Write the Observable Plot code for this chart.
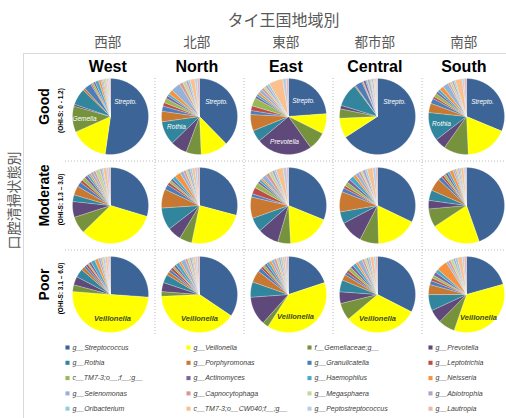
<!DOCTYPE html>
<html><head><meta charset="utf-8">
<script src="https://cdn.jsdelivr.net/npm/d3@7"></script>
<script src="https://cdn.jsdelivr.net/npm/@observablehq/plot@0.6"></script>
<style>body{margin:0;background:#fff;} svg{display:block}</style>
</head><body><div id="chart"></div>
<script>
// ---------- data ----------
const title = "タイ王国地域別";
const rowTitle = "口腔清掃状態別";
const regionsJa = ["西部", "北部", "東部", "都市部", "南部"];
const regionsEn = ["West", "North", "East", "Central", "South"];
const hygiene = ["Good", "Moderate", "Poor"];
const hygieneRange = ["(OHI-S: 0 - 1.2)", "(OHI-S: 1.3 – 3.0)", "(OHI-S: 3.1 – 6.0)"];

const taxa = ["g__Streptococcus", "g__Veillonella", "f__Gemellaceae;g__", "g__Prevotella",
  "g__Rothia", "g__Porphyromonas", "g__Granulicatella", "g__Leptotrichia",
  "c__TM7-3;o__;f__;g__", "g__Actinomyces", "g__Haemophilus", "g__Neisseria",
  "g__Selenomonas", "g__Capnocytophaga", "g__Megasphaera", "g__Abiotrophia",
  "g__Oribacterium", "c__TM7-3;o__CW040;f__;g__", "g__Peptostreptococcus", "g__Lautropia"];
const taxaColors = ["#3C6496", "#FFFF00", "#76923C", "#5F497A",
  "#31859C", "#C97831", "#4A7EBB", "#BE4B48",
  "#98B954", "#7D60A0", "#46AAC5", "#F69240",
  "#95B3D7", "#D99694", "#C3D69B", "#B3A2C7",
  "#93CDDD", "#FAC090", "#B9CDE5", "#E6B9B8"];

// relative abundance (%) per taxon, in the order of `taxa`
const good_West    = [52, 16, 11, 0.8, 7, 1, 3, 0.5, 0.8, 0.8, 1.5, 1, 0.6, 0.5, 0.8, 0.4, 0.3, 0.6, 0.4, 0.5];
const good_North   = [37.6, 11.6, 6.4, 7, 10, 4.5, 2.2, 1.5, 2, 1.2, 1, 2, 4, 1.5, 1.5, 1, 0.8, 2, 1, 1];
const good_East    = [24, 8.6, 7.8, 24, 5, 7, 1.7, 2, 3.6, 1, 1, 1, 1.5, 1, 1, 1, 1, 6, 1.5, 1];
const good_Central = [66, 8.4, 4, 1.5, 10, 0.5, 3, 0.4, 0.3, 1, 0.5, 0.3, 1, 0.4, 0.5, 0.6, 0.3, 0.5, 0.6, 0.4];
const good_South   = [31, 17.8, 10.5, 4.7, 12, 3.9, 2.2, 1, 1.5, 1, 1.2, 1.8, 2.5, 0.8, 1, 0.8, 0.6, 3, 0.8, 1];

const mod_West     = [29.4, 32.8, 7.2, 6.7, 2.8, 3.9, 2, 1.2, 1.5, 1.2, 1, 0.8, 1.2, 1, 2, 0.8, 0.6, 1.5, 0.8, 0.8];
const mod_North    = [29, 24, 5.3, 5.8, 9.4, 8, 2.2, 1.2, 1, 1, 1.5, 2.5, 1.5, 1, 1, 1, 0.8, 1.2, 1, 1];
const mod_East     = [31, 17.9, 5.4, 8.9, 6, 9, 1.4, 2.8, 2.2, 1, 1, 0.8, 2, 1.5, 1.5, 1, 0.8, 3, 1.5, 0.8];
const mod_Central  = [32, 17.4, 8, 9.7, 5, 8.6, 1.7, 1.1, 1.7, 1.5, 2, 1.2, 1.5, 1, 0.8, 1.2, 0.8, 2.5, 1.2, 0.8];
const mod_South    = [44.4, 21, 7.8, 3.6, 4.4, 5.3, 1.7, 1, 1, 1, 1, 1.5, 0.8, 0.6, 0.8, 0.6, 0.6, 1.2, 0.6, 0.6];

const poor_West    = [26, 50, 2.8, 3.6, 3.6, 1.4, 1, 1, 0.6, 1, 1.8, 1.5, 1, 0.6, 0.6, 0.5, 0.4, 1, 0.6, 0.6];
const poor_North   = [34.6, 40, 2, 3.9, 3.6, 1.5, 1.2, 1.2, 0.8, 1, 1.5, 1, 2, 1, 1, 0.8, 0.6, 1, 0.8, 1];
const poor_East    = [19.6, 38.5, 2.5, 12, 6.4, 5, 1.7, 1, 1, 1, 1.2, 1, 1.2, 1, 1, 0.8, 0.8, 1, 0.8, 0.8];
const poor_Central = [32.5, 31.3, 7.3, 5, 5, 2.5, 1.2, 1.2, 1.5, 1.2, 1.5, 1, 2, 1, 1, 0.8, 0.8, 1.5, 0.8, 0.8];
const poor_South   = [20.3, 34, 7, 5.6, 6.7, 4.2, 1.7, 1.2, 1.2, 1.5, 1.5, 4.5, 1, 1, 1.2, 0.8, 1, 2, 0.8, 1];

const pieRows = [
  [good_West, good_North, good_East, good_Central, good_South],
  [mod_West, mod_North, mod_East, mod_Central, mod_South],
  [poor_West, poor_North, poor_East, poor_Central, poor_South]
];

// in-pie labels: [row, col, text]
const pieLabelText = [
  [0, 0, "Strepto."], [0, 1, "Strepto."], [0, 2, "Strepto."], [0, 3, "Strepto."], [0, 4, "Strepto."],
  [0, 0, "Gemella"], [0, 1, "Rothia"], [0, 2, "Prevotella"], [0, 4, "Rothia"]
];
const veilLabelText = [[2, 0, "Veillonella"], [2, 1, "Veillonella"], [2, 2, "Veillonella"], [2, 3, "Veillonella"], [2, 4, "Veillonella"]];

// ---------- layout (pixels) ----------
const W = 506, H = 418;
const COL = 89, X0 = 110, Y0 = 116;   // px per grid unit, px of column/row 0 centre
const R = 38 / COL;                   // pie radius in grid units
const ux = p => (p - X0) / COL, uy = p => (p - Y0) / COL;
const labelOffsets = [[15, -15], [17, -15], [15, -16], [17, -15], [16, -15], [-26, 2], [-23, 10], [-4, 25], [-25, 7]];
const veilOffsets = [[2, 24], [0, 24], [7, 22], [0, 24], [12, 23]];

// ---------- build slices ----------
const slices = [];
pieRows.forEach((rowArr, r) => rowArr.forEach((vals, c) => {
  const total = d3.sum(vals);
  let a = 0;
  vals.forEach((v, i) => {
    const a0 = a, a1 = a + v / total * 2 * Math.PI;
    a = a1;
    const key = `${r}-${c}-${i}`;
    const n = Math.max(2, Math.ceil((a1 - a0) / (Math.PI / 180)));
    slices.push({key, taxon: taxa[i], x: c, y: r});
    for (let k = 0; k <= n; k++) {
      const t = a0 + (a1 - a0) * k / n;
      slices.push({key, taxon: taxa[i], x: c + R * Math.sin(t), y: r - R * Math.cos(t)});
    }
    slices.push({key, taxon: taxa[i], x: c, y: r});
  });
}));

const legend = taxa.map((t, i) => ({taxon: t, col: i % 4, row: Math.floor(i / 4)}));
const lgX = d => ux(67 + 121 * d.col);
const lgY = d => uy(347 + 15.3 * d.row);

const JP = "'Noto Sans CJK JP', sans-serif";

const chart = Plot.plot({
  width: W, height: H,
  marginLeft: 0, marginRight: 0, marginTop: 0, marginBottom: 0,
  x: {domain: [ux(0), ux(W)], range: [0, W], axis: null},
  y: {domain: [uy(0), uy(H)], range: [0, H], axis: null},
  color: {domain: taxa, range: taxaColors},
  style: {fontFamily: "'Liberation Sans', Arial, sans-serif", background: "white"},
  marks: [
    Plot.ruleY([uy(53)], {x1: ux(23), x2: ux(W), stroke: "#d9d9d9", strokeWidth: 1}),
    Plot.ruleX([ux(23)], {y1: uy(53), y2: uy(H), stroke: "#d9d9d9", strokeWidth: 1}),
    Plot.ruleY([0.5, 1.5], {x1: ux(65), x2: ux(W), stroke: "#b8b8b8", strokeDasharray: "1,2"}),
    Plot.ruleX([0.5, 1.5, 2.5, 3.5], {y1: uy(78), y2: uy(336), stroke: "#b8b8b8", strokeDasharray: "1,2"}),
    Plot.line(slices, {x: "x", y: "y", z: "key", fill: "taxon", stroke: "white", strokeWidth: 0.3, strokeOpacity: 0.8, curve: "linear"}),
    // in-pie labels
    Plot.text(pieLabelText, {
      x: (d, i) => d[1] + labelOffsets[i][0] / COL, y: (d, i) => d[0] + labelOffsets[i][1] / COL,
      text: d => d[2], fill: "white", fontSize: 6.5, fontStyle: "italic"
    }),
    Plot.text(veilLabelText, {
      x: (d, i) => d[1] + veilOffsets[i][0] / COL, y: (d, i) => d[0] + veilOffsets[i][1] / COL,
      text: d => d[2], fill: "#3b4a2a", fontSize: 7.5, fontStyle: "italic", fontWeight: "bold"
    }),
    // titles
    Plot.text([title], {x: ux(283), y: uy(20), text: d => d, fontSize: 16, fill: "#595959", fontFamily: JP}),
    Plot.text(regionsJa, {x: (d, i) => i - 0.03, y: uy(42), text: d => d, fontSize: 13.5, fill: "#595959", fontFamily: JP}),
    Plot.text(regionsEn, {x: (d, i) => i - 0.03, y: uy(66), text: d => d, fontSize: 16, fontWeight: "bold", fill: "black"}),
    Plot.text([rowTitle], {x: ux(14), y: uy(200), text: d => d, fontSize: 14, fill: "#595959", fontFamily: JP, rotate: -90}),
    Plot.text(hygiene, {x: ux(44), y: (d, i) => i - 10 / COL, text: d => d, fontSize: 14, fontWeight: "bold", fill: "black", rotate: -90}),
    Plot.text(hygieneRange, {x: ux(60), y: (d, i) => i - 6 / COL, text: d => d, fontSize: 6.5, fontWeight: "bold", fill: "black", rotate: -90}),
    // legend
    Plot.dot(legend, {x: lgX, y: lgY, fill: "taxon", symbol: "square", r: 2.3}),
    Plot.text(legend, {x: d => lgX(d) + 5 / COL, y: lgY, text: "taxon", textAnchor: "start", fontSize: 7, fontStyle: "italic", fill: "#404040"})
  ]
});
document.getElementById("chart").appendChild(chart);
</script>
</body></html>
